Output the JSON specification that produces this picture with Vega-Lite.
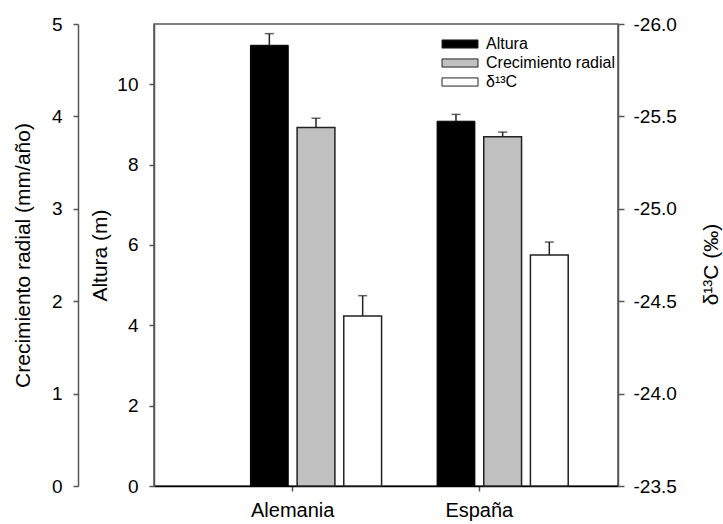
{
  "$schema": "https://vega.github.io/schema/vega-lite/v6.json",
  "width": 464,
  "height": 462,
  "autosize": {"type": "none"},
  "padding": {"left": 154, "top": 24, "right": 105, "bottom": 38},
  "background": "white",
  "config": {
    "font": "Liberation Sans",
    "view": {"stroke": "#555", "strokeWidth": 1.5},
    "axis": {
      "labelFont": "Liberation Sans",
      "titleFont": "Liberation Sans",
      "labelFontSize": 19,
      "titleFontSize": 21,
      "titleFontWeight": "normal",
      "labelColor": "black",
      "titleColor": "black",
      "domainColor": "#555",
      "tickColor": "#555",
      "domainWidth": 1.5,
      "tickWidth": 1.5,
      "grid": false
    },
    "legend": {"labelFont": "Liberation Sans", "labelFontSize": 16, "labelColor": "black"}
  },
  "data": {
    "values": [
      {"pais": "Alemania", "serie": "Altura", "valor": 10.97, "sup": 11.26},
      {"pais": "España", "serie": "Altura", "valor": 9.08, "sup": 9.25},
      {"pais": "Alemania", "serie": "Crecimiento radial", "valor": 3.88, "sup": 3.98},
      {"pais": "España", "serie": "Crecimiento radial", "valor": 3.78, "sup": 3.83},
      {"pais": "Alemania", "serie": "δ¹³C", "valor": -24.42, "sup": -24.53},
      {"pais": "España", "serie": "δ¹³C", "valor": -24.75, "sup": -24.82}
    ]
  },
  "encoding": {
    "x": {
      "field": "pais",
      "type": "nominal",
      "sort": ["Alemania", "España"],
      "scale": {"paddingInner": 0, "paddingOuter": 0.243},
      "axis": {
        "title": null,
        "labelAngle": 0,
        "tickSize": 5,
        "labelPadding": 9,
        "domainColor": "black",
        "labelFontSize": 20
      }
    },
    "xOffset": {
      "field": "serie",
      "type": "nominal",
      "scale": {
        "domain": ["vacío", "Altura", "Crecimiento radial", "δ¹³C"],
        "paddingInner": 0.19,
        "paddingOuter": 0.095
      }
    }
  },
  "layer": [
    {
      "transform": [{"filter": "datum.serie === 'Altura'"}],
      "encoding": {
        "y": {
          "field": "valor",
          "type": "quantitative",
          "scale": {"domain": [0, 11.5], "nice": false, "zero": false}
        }
      },
      "layer": [
        {
          "mark": {"type": "bar", "stroke": "black", "strokeWidth": 1},
          "encoding": {
            "y": {
              "field": "valor",
              "type": "quantitative",
              "axis": {
                "orient": "left",
                "values": [0, 2, 4, 6, 8, 10],
                "format": "d",
                "title": "Altura (m)",
                "tickSize": 5,
                "labelPadding": 11,
                "titlePadding": 6
              }
            },
            "fill": {
              "field": "serie",
              "type": "nominal",
              "scale": {
                "domain": ["Altura", "Crecimiento radial", "δ¹³C"],
                "range": ["black", "#c0c0c0", "white"]
              },
              "legend": {
                "title": null,
                "orient": "none",
                "legendX": 298,
                "legendY": 12,
                "padding": 0,
                "symbolType": "M-4,-0.9H4V0.9H-4Z",
                "symbolSize": 81,
                "symbolStrokeColor": "black",
                "symbolStrokeWidth": 1,
                "symbolOpacity": 1,
                "rowPadding": 3,
                "labelOffset": 18
              }
            }
          }
        },
        {
          "mark": {"type": "rule", "color": "#222", "strokeWidth": 1.5},
          "encoding": {"y2": {"field": "sup"}}
        },
        {
          "mark": {"type": "tick", "color": "#222", "thickness": 1.5, "size": 9},
          "encoding": {"y": {"field": "sup", "type": "quantitative"}}
        }
      ]
    },
    {
      "transform": [{"filter": "datum.serie === 'Crecimiento radial'"}],
      "encoding": {
        "y": {
          "field": "valor",
          "type": "quantitative",
          "scale": {"domain": [0, 5], "nice": false, "zero": false}
        }
      },
      "layer": [
        {
          "mark": {"type": "bar", "stroke": "#222", "strokeWidth": 1.5},
          "encoding": {
            "y": {
              "field": "valor",
              "type": "quantitative",
              "axis": {
                "orient": "left",
                "offset": 76,
                "values": [0, 1, 2, 3, 4, 5],
                "format": "d",
                "title": "Crecimiento radial (mm/año)",
                "tickSize": 5,
                "labelPadding": 11,
                "titlePadding": 18
              }
            },
            "fill": {"field": "serie", "type": "nominal"}
          }
        },
        {
          "mark": {"type": "rule", "color": "#222", "strokeWidth": 1.5},
          "encoding": {"y2": {"field": "sup"}}
        },
        {
          "mark": {"type": "tick", "color": "#222", "thickness": 1.5, "size": 9},
          "encoding": {"y": {"field": "sup", "type": "quantitative"}}
        }
      ]
    },
    {
      "transform": [{"filter": "datum.serie === 'δ¹³C'"}],
      "encoding": {
        "y": {
          "field": "valor",
          "type": "quantitative",
          "scale": {"domain": [-26, -23.5], "reverse": true, "nice": false, "zero": false}
        }
      },
      "layer": [
        {
          "mark": {"type": "bar", "stroke": "#222", "strokeWidth": 1.5},
          "encoding": {
            "y": {
              "field": "valor",
              "type": "quantitative",
              "axis": {
                "orient": "right",
                "values": [-26, -25.5, -25, -24.5, -24, -23.5],
                "labelExpr": "replace(format(datum.value, '.1f'), '−', '-')",
                "title": "δ¹³C (‰)",
                "titleAngle": 270,
                "titleBaseline": "bottom",
                "titleAlign": "center",
                "titleX": 103,
                "titleY": 240,
                "tickSize": 6,
                "labelPadding": 9
              }
            },
            "y2": {"datum": -23.5},
            "fill": {"field": "serie", "type": "nominal"}
          }
        },
        {
          "mark": {"type": "rule", "color": "#222", "strokeWidth": 1.5},
          "encoding": {"y2": {"field": "sup"}}
        },
        {
          "mark": {"type": "tick", "color": "#222", "thickness": 1.5, "size": 9},
          "encoding": {"y": {"field": "sup", "type": "quantitative"}}
        }
      ]
    }
  ],
  "resolve": {"scale": {"y": "independent"}, "axis": {"y": "independent"}}
}
